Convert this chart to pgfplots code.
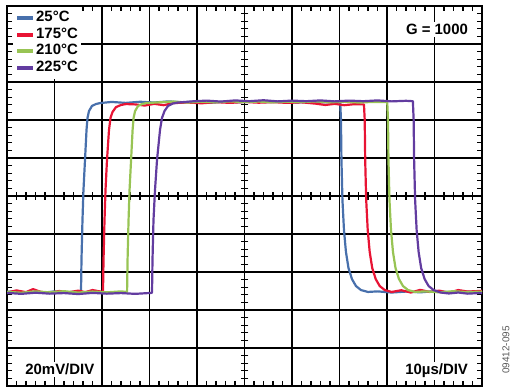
\documentclass[border=0pt]{standalone}
\usepackage{pgfplots}
\pgfplotsset{compat=1.18}
\usepackage{fontspec}
\setmainfont{Liberation Sans}
\definecolor{cBlue}{RGB}{72,112,172}
\definecolor{cRed}{RGB}{232,20,52}
\definecolor{cGreen}{RGB}{152,196,84}
\definecolor{cPurple}{RGB}{98,60,160}
\begin{document}
\begin{tikzpicture}
\path[use as bounding box] (0,0) rectangle (510bp,390bp);
\begin{axis}[
  at={(7bp,4bp)}, anchor=south west,
  width=475bp, height=380bp, scale only axis,
  xmin=0, xmax=100, ymin=-100, ymax=100,
  xtick={0,10,...,100}, ytick={-100,-80,...,100},
  xticklabels={}, yticklabels={},
  grid=major, major grid style={black, line width=1.4bp},
  major tick length=0pt,
  axis line style={black, line width=1.6bp},
  clip marker paths=true,
  legend cell align=left,
  legend image code/.code={\draw[line width=4bp] (0bp,0bp) -- (16bp,0bp);},
  legend style={at={(0.0126,1)}, anchor=north west, yshift=-0.8bp,
    fill=white, draw=none, inner xsep=2bp, inner ysep=3bp,
    font=\fontsize{15}{16}\selectfont\bfseries, row sep=0bp,
    nodes={inner sep=1bp, text height=11bp, text depth=3.5bp},
    /tikz/every even column/.append style={column sep=2bp}},
  every axis plot/.append style={line width=2.2bp, line join=round},
]
% minor ticks on the frame (half of each mark is clipped away)
\addplot[forget plot, only marks, mark=|, mark size=5bp, black, mark options={line width=1.2bp}] coordinates {
(2,-100)(4,-100)(6,-100)(8,-100)(12,-100)(14,-100)(16,-100)(18,-100)(22,-100)(24,-100)(26,-100)(28,-100)(32,-100)(34,-100)(36,-100)(38,-100)(42,-100)(44,-100)(46,-100)(48,-100)
(52,-100)(54,-100)(56,-100)(58,-100)(62,-100)(64,-100)(66,-100)(68,-100)(72,-100)(74,-100)(76,-100)(78,-100)(82,-100)(84,-100)(86,-100)(88,-100)(92,-100)(94,-100)(96,-100)(98,-100)
(2,100)(4,100)(6,100)(8,100)(12,100)(14,100)(16,100)(18,100)(22,100)(24,100)(26,100)(28,100)(32,100)(34,100)(36,100)(38,100)(42,100)(44,100)(46,100)(48,100)
(52,100)(54,100)(56,100)(58,100)(62,100)(64,100)(66,100)(68,100)(72,100)(74,100)(76,100)(78,100)(82,100)(84,100)(86,100)(88,100)(92,100)(94,100)(96,100)(98,100)};
\addplot[forget plot, only marks, mark=-, mark size=5bp, black, mark options={line width=1.2bp}] coordinates {
(0,4)(0,8)(0,12)(0,16)(0,24)(0,28)(0,32)(0,36)(0,44)(0,48)(0,52)(0,56)(0,64)(0,68)(0,72)(0,76)(0,84)(0,88)(0,92)(0,96)
(0,-4)(0,-8)(0,-12)(0,-16)(0,-24)(0,-28)(0,-32)(0,-36)(0,-44)(0,-48)(0,-52)(0,-56)(0,-64)(0,-68)(0,-72)(0,-76)(0,-84)(0,-88)(0,-92)(0,-96)
(100,4)(100,8)(100,12)(100,16)(100,24)(100,28)(100,32)(100,36)(100,44)(100,48)(100,52)(100,56)(100,64)(100,68)(100,72)(100,76)(100,84)(100,88)(100,92)(100,96)
(100,-4)(100,-8)(100,-12)(100,-16)(100,-24)(100,-28)(100,-32)(100,-36)(100,-44)(100,-48)(100,-52)(100,-56)(100,-64)(100,-68)(100,-72)(100,-76)(100,-84)(100,-88)(100,-92)(100,-96)};
% crosshair minor ticks
\addplot[forget plot, only marks, mark=|, mark size=3.8bp, black, mark options={line width=1.2bp}] coordinates {
(2,0)(4,0)(6,0)(8,0)(12,0)(14,0)(16,0)(18,0)(22,0)(24,0)(26,0)(28,0)(32,0)(34,0)(36,0)(38,0)(42,0)(44,0)(46,0)(48,0)
(52,0)(54,0)(56,0)(58,0)(62,0)(64,0)(66,0)(68,0)(72,0)(74,0)(76,0)(78,0)(82,0)(84,0)(86,0)(88,0)(92,0)(94,0)(96,0)(98,0)};
\addplot[forget plot, only marks, mark=-, mark size=3.8bp, black, mark options={line width=1.2bp}] coordinates {
(50,4)(50,8)(50,12)(50,16)(50,24)(50,28)(50,32)(50,36)(50,44)(50,48)(50,52)(50,56)(50,64)(50,68)(50,72)(50,76)(50,84)(50,88)(50,92)(50,96)
(50,-4)(50,-8)(50,-12)(50,-16)(50,-24)(50,-28)(50,-32)(50,-36)(50,-44)(50,-48)(50,-52)(50,-56)(50,-64)(50,-68)(50,-72)(50,-76)(50,-84)(50,-88)(50,-92)(50,-96)};
% 25 C
\addplot[cBlue] coordinates {
(0,-50.5)(2,-50)(4,-51)(6,-50.3)(8,-50.8)(10,-50.2)(12,-51)(14,-50.4)(15.4,-50.6)
(15.58,-50.5)(15.68,-33.7)(15.89,-12.6)(16.10,3.2)(16.42,18.9)(16.74,34.7)(16.95,41.1)(17.26,44.7)(17.89,47.4)(18.73,48.4)(19.57,48.9)
(22,49.5)(25,49)(28,49.6)(31,49.2)(34,49.8)(37,49.3)(40,49.7)(43,49.1)(46,49.6)(49,49.3)(52,49.8)(55,49.4)(58,49.7)(61,49.2)(64,49.6)(67,49.3)(70.15,49.4)
(70.31,40.0)(70.41,18.9)(70.62,-2.1)(70.94,-17.9)(71.36,-29.5)(71.89,-37.9)(72.62,-43.7)(73.47,-47.4)(74.52,-49.5)(75.99,-50.5)
(78,-50.2)(81,-50.8)(84,-50.3)(87,-50.7)(90,-50.1)(93,-50.6)(96,-50.3)(100,-50.5)};
\addlegendentry{25°C}
% 175 C
\addplot[cRed] coordinates {
(0,-50.8)(2,-49.7)(4,-50.6)(5.5,-49)(7,-50.4)(9,-51)(11,-50)(13,-50.7)(15,-49.8)(16.5,-50.6)(18,-49.5)(19.5,-50.2)(20.1,-50.5)
(20.21,-50.5)(20.32,-33.7)(20.53,-12.6)(20.74,3.2)(21.05,18.9)(21.47,34.7)(21.79,41.1)(22.21,44.2)(22.95,46.8)(24.0,47.9)(25.05,48.4)
(27,48.2)(29,47.6)(31,48.5)(33,47.8)(35,48.9)(38,49.2)(41,48.8)(44,49.4)(47,49.0)(50,49.5)(53,49.1)(56,49.4)(59,49.0)(62,49.3)(65,48.6)(67,47.9)(69,48.5)(71,47.8)(73,48.3)(75.15,48.2)
(75.31,40)(75.41,18.9)(75.62,-2.1)(75.94,-17.9)(76.36,-29.5)(76.89,-37.9)(77.62,-43.7)(78.47,-47.4)(79.52,-49.5)(80.99,-50.5)
(83,-49.6)(85,-50.8)(87,-49.4)(89,-50.5)(91,-49.8)(93,-50.9)(95,-49.5)(97,-50.3)(100,-49.9)};
\addlegendentry{175°C}
% 210 C
\addplot[cGreen] coordinates {
(0,-50.4)(3,-50.9)(6,-50.2)(9,-50.7)(12,-50.1)(15,-50.8)(18,-50.3)(21,-50.7)(24,-50.2)(25.2,-50.5)
(25.28,-50.5)(25.38,-33.7)(25.59,-12.6)(25.8,3.2)(26.12,18.9)(26.44,34.7)(26.65,41.1)(26.96,44.7)(27.59,47.4)(28.43,48.4)(29.27,48.9)
(32,49.3)(35,49.7)(38,49.2)(41,49.6)(44,49.3)(47,49.8)(50,49.4)(53,49.7)(56,49.3)(59,49.6)(62,49.4)(65,49.8)(68,49.3)(71,49.6)(74,49.2)(77,49.5)(80.05,49.4)
(80.21,40)(80.31,18.9)(80.52,-2.1)(80.84,-17.9)(81.26,-29.5)(81.79,-37.9)(82.52,-43.7)(83.37,-47.4)(84.42,-49.5)(85.89,-50.5)
(88,-50.2)(91,-50.7)(94,-50.1)(97,-50.6)(100,-50.3)};
\addlegendentry{210°C}
% 225 C
\addplot[cPurple] coordinates {
(0,-51)(3,-51.5)(6,-50.9)(9,-51.4)(12,-51.1)(15,-51.6)(18,-51)(21,-51.4)(24,-51.1)(27,-51.5)(30.4,-51)
(30.53,-50.8)(30.63,-33.7)(30.84,-12.6)(31.16,3.2)(31.58,18.9)(32.21,34.7)(32.63,41.1)(33.16,44.7)(33.89,47.4)(34.95,48.7)(36.0,49.2)
(39,49.8)(42,50.2)(45,49.7)(48,50.3)(51,49.9)(54,50.4)(57,49.8)(60,50.2)(63,49.9)(66,50.3)(69,49.8)(72,50.2)(75,49.9)(78,50.3)(81,49.8)(84,50.1)(85.45,49.9)
(85.61,40)(85.71,18.9)(85.92,-2.1)(86.24,-17.9)(86.66,-29.5)(87.19,-37.9)(87.92,-43.7)(88.77,-47.4)(89.82,-49.5)(91.29,-50.8)
(93,-51.3)(95,-50.8)(97,-51.4)(100,-51)};
\addlegendentry{225°C}
% annotations
\node[fill=white, inner sep=2bp, anchor=base east, font=\fontsize{15}{16}\selectfont\bfseries] at (rel axis cs:0.975,0.924) {G = 1000};
\node[fill=white, inner sep=2bp, anchor=base west, font=\fontsize{15}{16}\selectfont\bfseries] at (rel axis cs:0.034,0.029) {20mV/DIV};
\node[fill=white, inner sep=2bp, anchor=base east, font=\fontsize{15}{16}\selectfont\bfseries] at (rel axis cs:0.975,0.029) {10µs/DIV};
\end{axis}
\node[rotate=90, text=black!65, font=\fontsize{10}{12}\selectfont] at (506bp,40bp) {09412-095};
\end{tikzpicture}
\end{document}
